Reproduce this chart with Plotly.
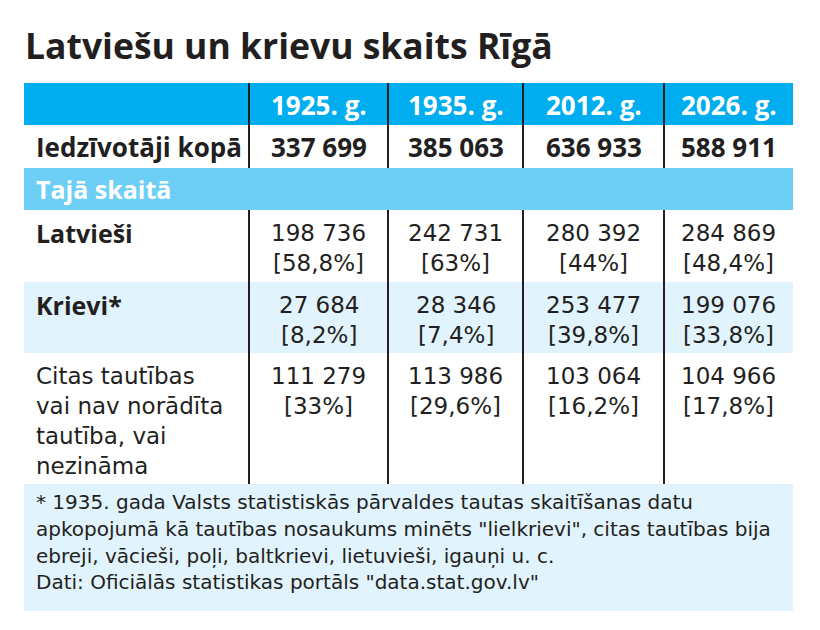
import plotly.graph_objects as go

# ---------------- data ----------------
title = "Latviešu un krievu skaits Rīgā"
years = ["1925. g.", "1935. g.", "2012. g.", "2026. g."]
total_label = "Iedzīvotāji kopā"
total = [337699, 385063, 636933, 588911]
section_label = "Tajā skaitā"
latv_label = "Latvieši"
latviesi = [198736, 242731, 280392, 284869]
latviesi_pct = ["58,8", "63", "44", "48,4"]
kriev_label = "Krievi*"
krievi = [27684, 28346, 253477, 199076]
krievi_pct = ["8,2", "7,4", "39,8", "33,8"]
citas_label = ["Citas tautības", "vai nav norādīta", "tautība, vai", "nezināma"]
citas = [111279, 113986, 103064, 104966]
citas_pct = ["33", "29,6", "16,2", "17,8"]
footnote = [
    "* 1935. gada Valsts statistiskās pārvaldes tautas skaitīšanas datu",
    "apkopojumā kā tautības nosaukums minēts \"lielkrievi\", citas tautības bija",
    "ebreji, vācieši, poļi, baltkrievi, lietuvieši, igauņi u. c.",
    "Dati: Oficiālās statistikas portāls \"data.stat.gov.lv\"",
]

# ---------------- layout / style ----------------
W, H = 820, 630
OFF = 8  # default page body margin
col_edges = [24, 249, 388, 523, 664, 793]
row_edges = [83, 125, 168, 210, 282, 353, 484, 611]
DARK = "#231F20"
BLUE = "#00AEEF"
LIGHT = "#6DCFF6"
PALE = "#E1F3FC"
BOLDFONT = "Open Sans"
REGFONT = "DejaVu Sans"
BODY = 23
LINE_GAP = 30
PAD = 10


def fmt(v):
    return f"{v:,}".replace(",", " ")


fig = go.Figure()
shapes = []
ann = []


def rect(x0, x1, y0, y1, color):
    shapes.append(dict(type="rect", xref="x", yref="y", x0=x0, x1=x1, y0=y0, y1=y1,
                       fillcolor=color, line=dict(width=0), layer="below"))


def text(x, y, s, size=BODY, bold=False, color=DARK, anchor="center"):
    ann.append(dict(x=x, y=y, xref="x", yref="y", text=(f"<b>{s}</b>" if bold else s),
                    showarrow=False, xanchor=anchor, yanchor="middle",
                    font=dict(family=(BOLDFONT if bold else REGFONT), size=size, color=color)))


L, R = col_edges[0], col_edges[-1]
# backgrounds
rect(L, R, row_edges[0], row_edges[1], BLUE)
rect(L, R, row_edges[2], row_edges[3], LIGHT)
rect(L, R, row_edges[4], row_edges[5], PALE)
rect(L, R, row_edges[6], row_edges[7], PALE)

# vertical dividers (not through the section row)
for xe in col_edges[1:-1]:
    for (ya, yb) in [(row_edges[0], row_edges[2]), (row_edges[3], row_edges[6])]:
        shapes.append(dict(type="line", xref="x", yref="y", x0=xe, x1=xe, y0=ya, y1=yb,
                           line=dict(color=DARK, width=2)))

centers = [(col_edges[i] + col_edges[i + 1]) / 2 for i in range(1, 5)]
lx = L + PAD

# title
text(L - 1, 45, title, size=35.5, bold=True, anchor="left")

# header
for cx, yname in zip(centers, years):
    text(cx, 105, yname, size=26, bold=True, color="white")

# total row
text(lx, 147, total_label, size=26, bold=True, anchor="left")
for cx, v in zip(centers, total):
    text(cx, 147, fmt(v), size=26, bold=True)

# section row
text(lx, 189, section_label, size=25, bold=True, color="white", anchor="left")

# body rows
body_rows = [
    ([latv_label], True, latviesi, latviesi_pct, row_edges[3]),
    ([kriev_label], True, krievi, krievi_pct, row_edges[4]),
    (citas_label, False, citas, citas_pct, row_edges[5]),
]
for labels, bold, vals, pcts, top in body_rows:
    y0 = top + 23
    for i, lab in enumerate(labels):
        text(lx, y0 + i * LINE_GAP, lab, size=(25 if bold else BODY), bold=bold, anchor="left")
    for cx, v, p in zip(centers, vals, pcts):
        text(cx, y0, fmt(v))
        text(cx, y0 + LINE_GAP, f"[{p}%]")

# footnote
for i, line in enumerate(footnote):
    text(lx, row_edges[6] + 18 + i * 26.8, line, size=20, anchor="left")

fig.update_layout(
    width=W - OFF, height=H - OFF, margin=dict(l=0, r=0, t=0, b=0),
    paper_bgcolor="white", plot_bgcolor="white",
    xaxis=dict(range=[OFF, W], visible=False, fixedrange=True),
    yaxis=dict(range=[H, OFF], visible=False, fixedrange=True),
    shapes=shapes, annotations=ann, showlegend=False,
)
fig.write_html("out.html", config={"displayModeBar": False})
